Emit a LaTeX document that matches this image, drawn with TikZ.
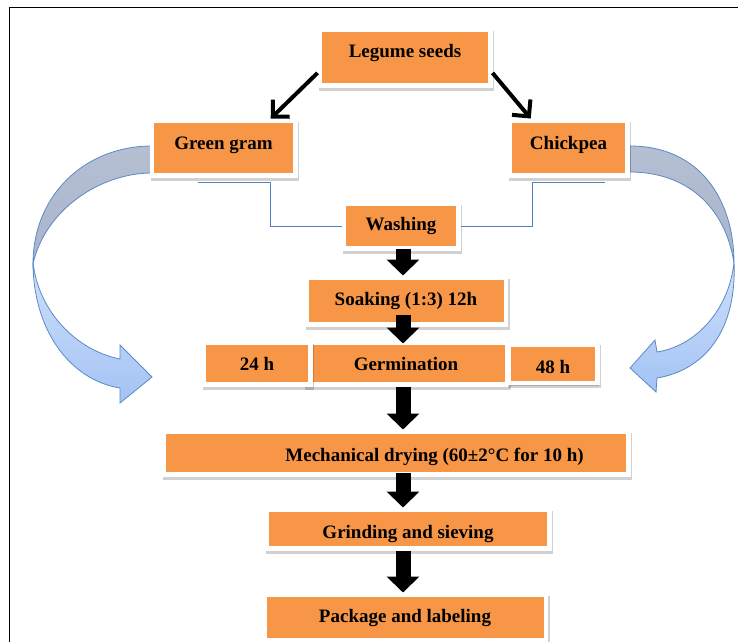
\documentclass[tikz,border=0pt]{standalone}
\usepackage{fontspec}
\setmainfont{Liberation Serif}
\usepackage{xcolor}
\usetikzlibrary{arrows.meta,positioning,shadows}
\definecolor{boxorange}{HTML}{F79646}
\definecolor{lineblue}{HTML}{4F81BD}
\definecolor{arcblue}{HTML}{5A8AC6}
\definecolor{backgray}{HTML}{B5BFD2}
\definecolor{backgray2}{HTML}{A9B5CC}
\definecolor{frontblue}{HTML}{CFE0FA}
\definecolor{frontblue2}{HTML}{A3C3F4}

\begin{document}
\begin{tikzpicture}[x=1pt,y=-1pt,
 box/.style={draw=white,line width=4.5pt,fill=boxorange,inner sep=0pt,text height=13pt,text depth=4pt,
  font=\fontsize{19}{22}\selectfont\bfseries,
  drop shadow={shadow xshift=1.5pt,shadow yshift=-3pt,opacity=.18,fill=black,draw=black,line width=4.5pt}},
 blk/.style={line width=15pt,-{Triangle[width=32pt,length=16pt]}},
 diag/.style={line width=4pt,-{Straight Barb[length=12pt,width=24pt]}},
 con/.style={draw=lineblue,line width=1pt},
 back/.style={draw=arcblue,line width=.8pt,top color=backgray,bottom color=backgray2},
 front/.style={draw=arcblue,line width=.8pt,top color=frontblue,bottom color=frontblue2}]
\useasboundingbox (0,0) rectangle (738,641);
\draw[line width=1.6pt] (9.5,650) -- (9.5,7.5) -- (745,7.5);
% curved arrows
\path[back] (152,146) .. controls (85,146) and (33,195) .. (33,264)
 .. controls (45,210) and (100,173) .. (152,173) -- cycle;
\path[front] (33,262) .. controls (33,330) and (70,380) .. (120,388) -- (120,403) -- (152,377)
 -- (120,345) -- (120,359) .. controls (75,350) and (38,310) .. (33,262) -- cycle;
\path[back] (630,146) .. controls (700,146) and (734,200) .. (734,263)
 .. controls (725,205) and (685,172) .. (630,172) -- cycle;
\path[front] (734,262) .. controls (737,330) and (705,370) .. (657,378) -- (656,392) -- (630,368)
 -- (655,340) -- (657,352) .. controls (700,345) and (730,305) .. (734,262) -- cycle;
% boxes
\node[box,minimum width=170.5pt,minimum height=55.5pt,text depth=13pt] (legume) at (405,57.5) {Legume seeds};
\node[box,minimum width=143.5pt,minimum height=54.5pt,text depth=11pt,below left=31pt and 20pt of legume] (green) {Green gram};
\node[box,minimum width=117.5pt,minimum height=54.5pt,text depth=11pt,below right=31pt and 15pt of legume] (chick) {Chickpea};
\node[box,minimum width=114.5pt,minimum height=44.5pt,below=114pt of legume,xshift=-4pt] (wash) {Washing};
\node[box,minimum width=199.5pt,minimum height=46.5pt,below=25pt of wash,xshift=5pt] (soak) {Soaking (1:3) 12h};
\node[box,minimum width=201.5pt,minimum height=41.5pt,text height=18.4pt,below=14pt of soak] (germ) {Germination};
\node[box,minimum width=106.5pt,minimum height=41.5pt,text height=18.4pt,left=-9.5pt of germ] (h24) {24 h};
\node[box,minimum width=88.5pt,minimum height=38.5pt,text height=23pt,right=-2.5pt of germ] (h48) {48 h};
\node[box,minimum width=464.5pt,minimum height=42.5pt,text height=20pt,below=43pt of germ,xshift=-10pt] (dry)
 {\hspace*{77pt}Mechanical drying (60±2°C for 10 h)};
\node[box,minimum width=282.5pt,minimum height=38.5pt,text height=22.5pt,below=31pt of dry,xshift=12pt] (grind) {Grinding and sieving};
\node[box,minimum width=281.5pt,minimum height=45.5pt,below=42pt of grind,xshift=-3pt] (pack) {Package and labeling};
% arrows
\draw[diag] (legume.190) -- (green.32);
\draw[diag] (legume.-10) -- (chick.142);
\draw[con] ([shift={(48.5,4.5)}]green.south west) -- ++(72,0) |- (wash.west);
\draw[con] (wash.east) -| ([shift={(-36.5,4.5)}]chick.south) -- ++(73,0);
\coordinate (ax) at (403,0);
\draw[blk,shorten <=-2pt] (wash.south -| ax) -- (soak.north -| ax);
\draw[blk,shorten <=-12pt,shorten >=-3pt] (soak.south -| ax) -- (germ.north -| ax);
\draw[blk] (germ.south -| ax) -- (dry.north -| ax);
\draw[blk,shorten <=-4pt] (dry.south -| ax) -- (grind.north -| ax);
\draw[blk] (grind.south -| ax) -- (pack.north -| ax);
\end{tikzpicture}
\end{document}
